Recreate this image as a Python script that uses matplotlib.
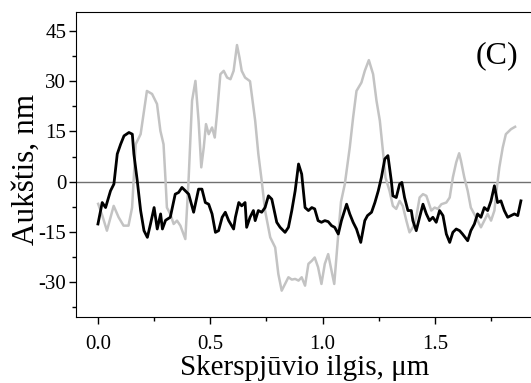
import matplotlib
matplotlib.use("Agg")
import matplotlib.pyplot as plt
from matplotlib.ticker import MultipleLocator

# black profile
x_black = [0.000, 0.019, 0.034, 0.056, 0.071, 0.086, 0.101, 0.116, 0.138, 0.153,
           0.160, 0.175, 0.190, 0.205, 0.220, 0.234, 0.250, 0.264, 0.279, 0.287,
           0.301, 0.322, 0.344, 0.359, 0.374, 0.389, 0.404, 0.426, 0.448, 0.463,
           0.478, 0.493, 0.508, 0.523, 0.537, 0.553, 0.567, 0.582, 0.604, 0.612,
           0.627, 0.640, 0.655, 0.662, 0.677, 0.692, 0.700, 0.714, 0.729, 0.744,
           0.759, 0.774, 0.796, 0.811, 0.833, 0.848, 0.863, 0.878, 0.893, 0.907,
           0.922, 0.937, 0.952, 0.965, 0.980, 0.995, 1.010, 1.025, 1.040, 1.054,
           1.070, 1.084, 1.107, 1.121, 1.136, 1.151, 1.170, 1.188, 1.200, 1.218,
           1.233, 1.248, 1.262, 1.277, 1.291, 1.306, 1.313, 1.328, 1.343, 1.353,
           1.365, 1.380, 1.395, 1.402, 1.417, 1.432, 1.447, 1.462, 1.476, 1.491,
           1.506, 1.521, 1.536, 1.551, 1.566, 1.580, 1.595, 1.610, 1.623, 1.646,
           1.660, 1.676, 1.690, 1.705, 1.720, 1.735, 1.750, 1.765, 1.779, 1.794,
           1.809, 1.824, 1.839, 1.854, 1.869, 1.883]
y_black = [-12.6, -6.2, -7.7, -2.7, -0.7, 8.3, 11.2, 13.7, 14.7, 14.2,
           8.3, 0.3, -8.6, -14.6, -16.6, -12.6, -7.7, -14.1, -9.6, -14.1,
           -11.5, -10.6, -3.7, -3.2, -1.7, -2.7, -3.7, -9.1, -2.2, -2.2,
           -6.2, -6.7, -9.6, -15.1, -14.6, -10.6, -9.1, -11.6, -14.1, -10.6,
           -6.2, -7.2, -6.2, -13.6, -10.6, -8.6, -11.6, -8.6, -9.1, -7.7,
           -4.2, -5.2, -12.1, -13.6, -15.1, -13.6, -8.6, -2.7, 5.3, 2.3,
           -7.7, -8.6, -7.7, -8.1, -11.6, -12.1, -11.6, -11.9, -13.1, -13.6,
           -15.6, -11.6, -6.7, -9.6, -12.1, -14.1, -18.1, -11.6, -10.1, -9.1,
           -6.2, -2.7, 1.3, 6.8, 7.8, 0.3, -4.2, -4.7, -0.7, -0.2,
           -4.7, -8.6, -8.6, -11.6, -14.6, -10.6, -6.7, -9.6, -11.6, -10.6,
           -12.1, -8.6, -10.1, -15.6, -18.1, -15.1, -14.1, -14.6, -15.6, -17.6,
           -14.6, -12.6, -9.6, -10.6, -7.7, -8.6, -5.7, -1.2, -6.2, -5.7,
           -8.6, -10.6, -10.1, -9.6, -10.1, -5.7]

# grey profile
x_grey = [0.001, 0.019, 0.040, 0.070, 0.092, 0.114, 0.136, 0.152, 0.168, 0.190,
          0.218, 0.241, 0.263, 0.278, 0.292, 0.301, 0.307, 0.322, 0.337, 0.352,
          0.367, 0.389, 0.404, 0.419, 0.434, 0.448, 0.460, 0.471, 0.481, 0.493,
          0.508, 0.520, 0.530, 0.545, 0.560, 0.575, 0.590, 0.604, 0.619, 0.630,
          0.640, 0.655, 0.677, 0.700, 0.714, 0.729, 0.744, 0.767, 0.789, 0.803,
          0.818, 0.833, 0.848, 0.863, 0.878, 0.893, 0.907, 0.922, 0.937, 0.952,
          0.965, 0.980, 0.995, 1.010, 1.025, 1.040, 1.052, 1.070, 1.082, 1.099,
          1.121, 1.136, 1.151, 1.173, 1.188, 1.206, 1.225, 1.240, 1.255, 1.270,
          1.280, 1.298, 1.313, 1.328, 1.343, 1.357, 1.373, 1.387, 1.402, 1.417,
          1.432, 1.447, 1.462, 1.484, 1.499, 1.513, 1.529, 1.551, 1.566, 1.580,
          1.595, 1.608, 1.616, 1.631, 1.646, 1.660, 1.683, 1.705, 1.720, 1.735,
          1.750, 1.765, 1.776, 1.787, 1.802, 1.816, 1.839, 1.857]
y_grey = [-6.6, -10.0, -14.6, -7.2, -10.6, -13.1, -13.1, -7.7, 11.2, 14.2,
          27.1, 26.2, 23.2, 15.2, 11.2, 0.3, -7.7, -9.6, -12.6, -11.6,
          -13.1, -17.1, 1.3, 24.2, 30.1, 18.2, 4.3, 10.2, 17.2, 14.2,
          16.2, 13.2, 20.2, 32.1, 33.1, 31.1, 30.6, 33.1, 40.8, 37.1,
          33.1, 31.1, 30.0, 18.2, 8.3, 0.3, -8.6, -16.6, -19.6, -27.5,
          -32.5, -30.5, -28.5, -29.2, -29.0, -29.5, -28.5, -31.0, -24.5, -23.6,
          -22.6, -25.5, -30.5, -24.5, -21.6, -26.6, -30.5, -15.6, -6.0, -0.7,
          10.2, 19.2, 27.1, 29.6, 33.1, 36.3, 32.1, 24.2, 18.2, 8.3,
          1.3, -2.7, -7.2, -8.1, -5.7, -7.2, -11.6, -15.1, -13.6, -10.6,
          -4.7, -3.7, -4.2, -8.6, -7.7, -8.1, -6.7, -6.2, -4.7, 1.3,
          5.8, 8.5, 6.3, 1.3, -2.7, -7.7, -10.6, -13.6, -11.6, -9.6,
          -11.6, -8.6, -1.7, 4.3, 10.2, 14.2, 15.7, 16.4]

y_ticks = [-30, -15, 0, 15, 30, 45]
x_ticks = [0.0, 0.5, 1.0, 1.5]

plt.rcParams["font.family"] = ["Liberation Serif", "DejaVu Serif"]

fig = plt.figure(figsize=(5.31, 3.83), dpi=100)
ax = fig.add_axes([0.143, 0.172, 0.86, 0.797])

ax.axhline(0, color="#707070", lw=1.0, zorder=1)
ax.plot(x_grey, y_grey, color="#c3c3c3", lw=1.8, zorder=2)
ax.plot(x_black, y_black, color="black", lw=2.0, zorder=3)

ax.set_xlim(-0.098, 1.935)
ax.set_ylim(-40.4, 50.7)
ax.set_xticks(x_ticks)
ax.set_xticklabels([f"{v:.1f}" for v in x_ticks])
ax.set_yticks(y_ticks)
ax.set_yticklabels([str(v) for v in y_ticks])
ax.xaxis.set_minor_locator(MultipleLocator(0.25))
ax.yaxis.set_minor_locator(MultipleLocator(7.5))
ax.tick_params(which="major", direction="out", length=5, width=1, labelsize=15)
ax.tick_params(axis="y", which="major", pad=2)
ax.tick_params(axis="x", which="major", pad=8)
ax.tick_params(which="minor", direction="out", length=3, width=1)
ax.spines["right"].set_visible(False)

fig.text(0.574, 0.021, "Skerspjūvio ilgis, μm", fontsize=21,
         ha="center", va="baseline")
fig.text(0.063, 0.557, "Aukštis, nm", fontsize=22.5, rotation=90,
         rotation_mode="anchor", ha="center", va="baseline")
ax.text(0.921, 0.856, "(C)", transform=ax.transAxes, fontsize=23,
        ha="center", va="center")

fig.savefig("out.png", dpi=100)
